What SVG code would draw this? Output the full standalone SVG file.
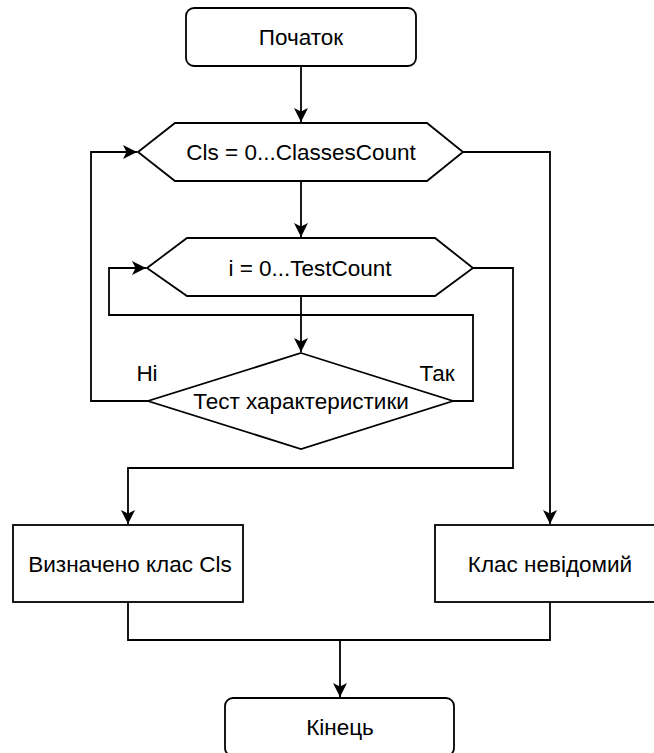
<svg xmlns="http://www.w3.org/2000/svg" width="654" height="753" viewBox="0 0 654 753">
<style>
.shape{fill:#fff;stroke:#000;stroke-width:1.8}
.conn{fill:none;stroke:#000;stroke-width:1.8}
text{font-family:"Liberation Sans",Arial,sans-serif;font-size:22.5px;fill:#000;text-anchor:middle}
</style>
<defs>
<marker id="arr" markerUnits="userSpaceOnUse" markerWidth="15" markerHeight="15" refX="14" refY="7" orient="auto">
<path d="M0,0 L14,7 L0,14 L3.5,7 z" fill="#000"/>
</marker>
</defs>
<rect width="654" height="753" fill="#fff"/>
<g id="connectors">
<path class="conn" d="M301,66 V122" marker-end="url(#arr)"/>
<path class="conn" d="M301,181 V237" marker-end="url(#arr)"/>
<path class="conn" d="M301,296 V352" marker-end="url(#arr)"/>
<path class="conn" d="M453,401 H473 V315 H109 V268 H146" marker-end="url(#arr)"/>
<path class="conn" d="M148,401 H91 V152 H137" marker-end="url(#arr)"/>
<path class="conn" d="M473,268 H513 V468 H128 V524" marker-end="url(#arr)"/>
<path class="conn" d="M463,152 H550 V524" marker-end="url(#arr)"/>
<path class="conn" d="M128,602 V640 H340 V697" marker-end="url(#arr)"/>
<path class="conn" d="M550,602 V640 H340"/>
</g>
<g id="start">
<rect class="shape" x="186" y="8" width="230" height="58" rx="8"/>
<text x="301" y="45">Початок</text>
</g>
<g id="loop-classes">
<polygon class="shape" points="138,152 175,123 427,123 463,152 427,181 175,181"/>
<text x="301" y="160">Cls = 0...ClassesCount</text>
</g>
<g id="loop-tests">
<polygon class="shape" points="147,268 187,238 435,238 473,268 435,296 187,296"/>
<text x="310" y="276">i = 0...TestCount</text>
</g>
<g id="test">
<polygon class="shape" points="301,353 453,401 301,449 148,401"/>
<text x="301" y="409">Тест характеристики</text>
</g>
<g id="labels">
<text x="147" y="381">Ні</text>
<text x="437" y="381">Так</text>
</g>
<g id="class-found">
<rect class="shape" x="13" y="525" width="230" height="77"/>
<text x="130" y="572">Визначено клас Cls</text>
</g>
<g id="class-unknown">
<rect class="shape" x="435" y="525" width="230" height="77"/>
<text x="550" y="572">Клас невідомий</text>
</g>
<g id="end">
<rect class="shape" x="225" y="698" width="229" height="58" rx="8"/>
<text x="340" y="735">Кінець</text>
</g>
</svg>
